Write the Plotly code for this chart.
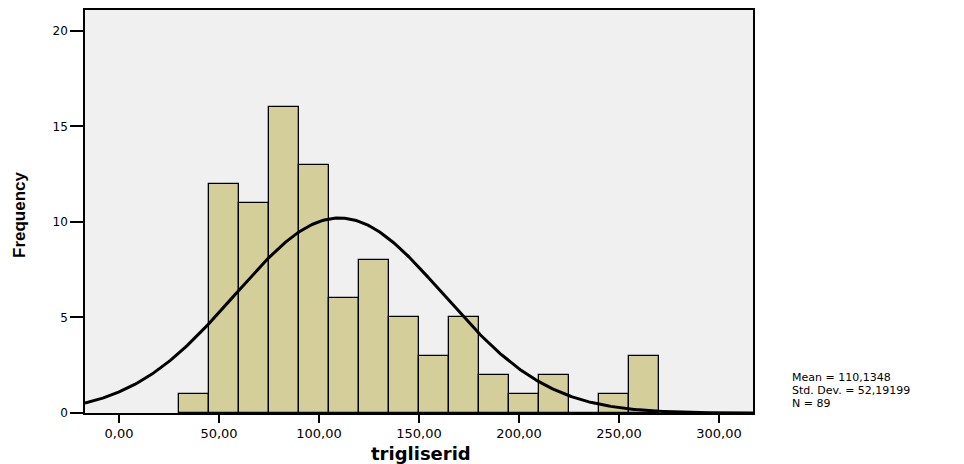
import numpy as np
import plotly.graph_objects as go

# Histogram of trigliserid (bin width 15, starting at 30)
bin_start = 30.0
bin_width = 15.0
counts = [1, 12, 11, 16, 13, 6, 8, 5, 3, 5, 2, 1, 2, 0, 1, 3]

mean_val = 110.1348
std_val = 52.19199
n_obs = 89

x_ticks = [0, 50, 100, 150, 200, 250, 300]
x_tick_labels = ["0,00", "50,00", "100,00", "150,00", "200,00", "250,00", "300,00"]
y_ticks = [0, 5, 10, 15, 20]
stats_lines = ["Mean = 110,1348", "Std. Dev. = 52,19199", f"N = {n_obs}"]

x_min, x_max = -17.0, 317.0
y_max = 21.09

# Figure / plot-area geometry in pixels
W, H = 964, 464
ML, MR, MT, MB = 85, 211, 8, 51
PW, PH = W - ML - MR, H - MT - MB


def px_x(p):
    return (p - ML) / PW


def px_y(p):
    return (H - MB - p) / PH


centers = [bin_start + bin_width * (i + 0.5) for i in range(len(counts))]

# Normal curve scaled to the histogram counts
xs = np.linspace(x_min, x_max, 400)
ys = n_obs * bin_width / (std_val * np.sqrt(2 * np.pi)) * np.exp(-0.5 * ((xs - mean_val) / std_val) ** 2)

fig = go.Figure()
fig.add_trace(go.Bar(
    x=centers, y=counts, width=[bin_width] * len(counts),
    marker=dict(color="#D3CE9A", line=dict(color="black", width=1.3)),
    hoverinfo="x+y", showlegend=False,
))
fig.add_trace(go.Scatter(
    x=xs, y=ys, mode="lines", line=dict(color="black", width=3),
    showlegend=False, hoverinfo="skip",
))

# Summary statistics, one line each
for line, ypix in zip(stats_lines, [377, 390, 403]):
    fig.add_annotation(
        x=px_x(790), y=px_y(ypix), xref="paper", yref="paper", showarrow=False,
        text=line, xanchor="left", yanchor="middle",
        font=dict(family="DejaVu Sans", size=11, color="black"),
    )

# Axis titles
fig.add_annotation(
    x=px_x(421), y=px_y(454), xref="paper", yref="paper", showarrow=False,
    text="<b>trigliserid</b>", xanchor="center", yanchor="middle",
    font=dict(family="DejaVu Sans", size=18, color="black"),
)
fig.add_annotation(
    x=px_x(20), y=px_y(214), xref="paper", yref="paper", showarrow=False,
    text="<b>Frequency</b>", textangle=-90, xanchor="center", yanchor="middle",
    font=dict(family="Liberation Sans", size=17, color="black"),
)

fig.update_layout(
    width=W, height=H,
    margin=dict(l=ML, r=MR, t=MT, b=MB),
    paper_bgcolor="white", plot_bgcolor="#F0F0F0",
    bargap=0,
    font=dict(family="DejaVu Sans", size=12, color="black"),
    xaxis=dict(
        range=[x_min, x_max], tickvals=x_ticks, ticktext=x_tick_labels,
        ticks="outside", ticklen=8, tickwidth=1.5, tickcolor="black",
        showline=True, linecolor="black", linewidth=1.5, mirror=True,
        showgrid=False, zeroline=False,
        tickfont=dict(family="DejaVu Sans", size=13),
    ),
    yaxis=dict(
        range=[0, y_max], tickvals=y_ticks,
        ticks="outside", ticklen=13, tickwidth=1.5, tickcolor="black",
        showline=True, linecolor="black", linewidth=1.5, mirror=True,
        showgrid=False, zeroline=False,
        tickfont=dict(family="DejaVu Sans", size=12),
    ),
)

fig.write_html("out.html")
